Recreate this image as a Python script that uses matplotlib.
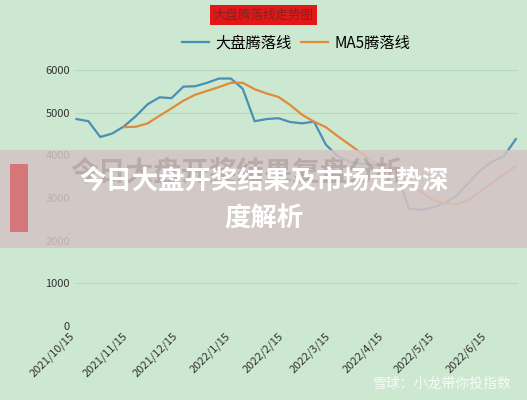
import numpy as np
import pandas as pd
import matplotlib
matplotlib.use('Agg')
import matplotlib.pyplot as plt
from matplotlib.patches import Rectangle

plt.rcParams['font.family'] = ['Noto Sans CJK SC', 'DejaVu Sans']

# 数据
dates = pd.date_range('2021-10-15', periods=38, freq='7D')
dapan = [4850, 4800, 4430, 4510, 4680, 4920, 5200, 5360, 5340, 5610,
         5620, 5700, 5800, 5800, 5560, 4800, 4850, 4870, 4780, 4750,
         4790, 4250, 3980, 3850, 3800, 3780, 3700, 3550, 2750, 2720,
         2780, 2880, 3050, 3350, 3650, 3850, 3980, 4380]
ma5 = [np.nan, np.nan, np.nan, np.nan, 4660, 4670, 4750, 4930, 5100, 5280,
       5420, 5510, 5600, 5700, 5700, 5550, 5450, 5370, 5180, 4950,
       4790, 4660, 4450, 4250, 4050, 3850, 3750, 3600, 3350, 3150,
       2950, 2880, 2850, 2950, 3150, 3350, 3550, 3750]
tick_dates = pd.to_datetime(['2021-10-15', '2021-11-15', '2021-12-15', '2022-01-15',
                             '2022-02-15', '2022-03-15', '2022-04-15', '2022-05-15',
                             '2022-06-15'])
tick_labels = ['2021/10/15', '2021/11/15', '2021/12/15', '2022/1/15', '2022/2/15',
               '2022/3/15', '2022/4/15', '2022/5/15', '2022/6/15']

bg = '#cde8d0'
fig = plt.figure(figsize=(5.27, 4), dpi=100, facecolor=bg)
ax = fig.add_axes([0.142, 0.185, 0.84, 0.64], facecolor=bg)

ax.plot(dates, dapan, color='#4a8fb5', lw=1.6, label='大盘腾落线')
ax.plot(dates, ma5, color='#e08a3c', lw=1.6, label='MA5腾落线')

ax.set_ylim(0, 6000)
ax.set_yticks(range(0, 7000, 1000))
ax.set_xlim(dates[0] - pd.Timedelta(days=1), dates[-1] + pd.Timedelta(days=1))
ax.set_xticks(tick_dates)
ax.set_xticklabels(tick_labels, rotation=45, ha='right', fontsize=8, color='#333333')
ax.tick_params(axis='y', labelsize=8, colors='#333333', length=0)
ax.tick_params(axis='x', length=0)
ax.grid(axis='y', color='#b8d8bc', lw=0.8)
for s in ax.spines.values():
    s.set_visible(False)

ax.legend(loc='center', bbox_to_anchor=(0.5, 1.105), ncol=2, frameon=False,
          fontsize=11, handlelength=1.8, columnspacing=0.6, handletextpad=0.4)

# 顶部红色标题框
fig.text(0.5, 0.962, '大盘腾落线走势图', ha='center', va='center', fontsize=9,
         color='#8a2020', bbox=dict(boxstyle='square,pad=0.3', fc='#e01818', ec='none'))

# 中间半透明横幅
fig.patches.append(Rectangle((0, 0.38), 1, 0.245, transform=fig.transFigure,
                             fc='#d4c4c6', alpha=0.85, ec='none'))
fig.patches.append(Rectangle((0.019, 0.42), 0.034, 0.17, transform=fig.transFigure,
                             fc='#d4767a', ec='none'))
fig.text(0.45, 0.57, '今日大盘开奖结果复盘分析', ha='center', va='center', fontsize=20,
         weight='bold', color='#9a8888', alpha=0.45)
fig.text(0.5, 0.548, '今日大盘开奖结果及市场走势深', ha='center', va='center',
         fontsize=19, weight='bold', color='white')
fig.text(0.5, 0.452, '度解析', ha='center', va='center', fontsize=19,
         weight='bold', color='white')

# 水印
fig.text(0.97, 0.04, '雪球：小龙带你投指数', ha='right', va='center', fontsize=10,
         color='white', alpha=0.85)

fig.savefig('out.png', dpi=100, facecolor=bg)
